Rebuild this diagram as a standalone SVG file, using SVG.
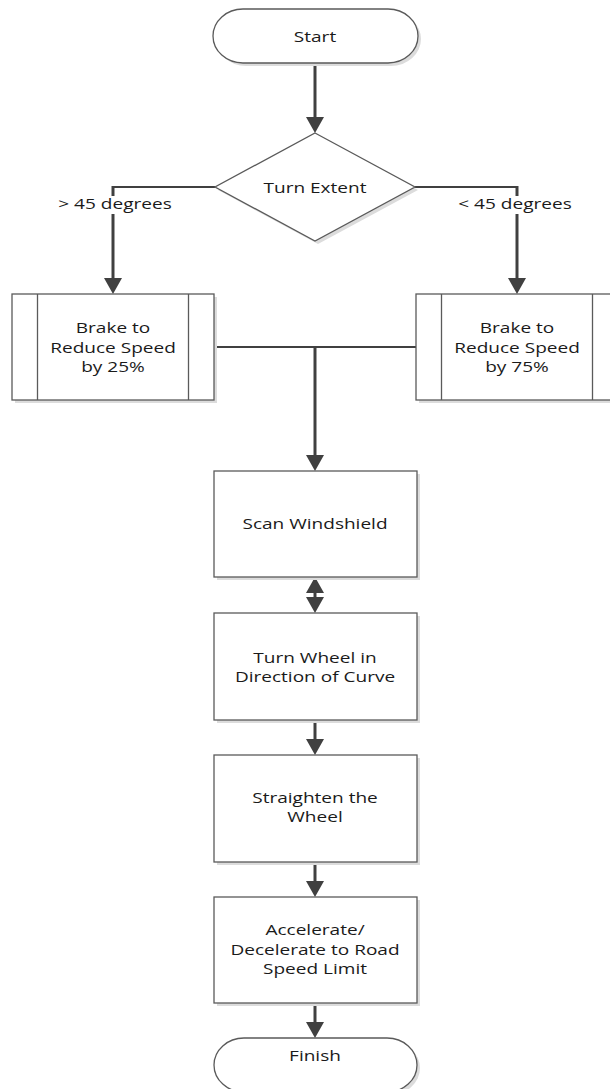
<svg xmlns="http://www.w3.org/2000/svg" width="610" height="1089" viewBox="0 0 610 1089">
  <style>
    .shape { fill: #ffffff; stroke: #5a5a5a; stroke-width: 1.3; }
    .shadow { fill: #dcdcdc; stroke: none; }
    .inner { stroke: #5a5a5a; stroke-width: 1.3; fill: none; }
    .lbl { font-family: "Open Sans", "Liberation Sans", sans-serif; font-size: 15px; fill: #1a1a1a; text-anchor: middle; }
    .wire { fill: none; stroke: #404040; stroke-width: 2; }
    .flow { fill: none; stroke: #404040; stroke-width: 3; }
    .arrow { marker-end: url(#head); }
  </style>
  <defs>
    <marker id="head" viewBox="0 0 16 18" refX="6" refY="9" markerWidth="16" markerHeight="18" markerUnits="userSpaceOnUse" orient="auto-start-reverse">
      <path d="M0,0 L16,9 L0,18 Z" fill="#404040"/>
    </marker>
  </defs>
  <rect width="610" height="1089" fill="#ffffff"/>

  <!-- connectors -->
  <g id="connectors">
    <path class="flow arrow" d="M315,63 V123"/>
    <path class="wire" d="M215,187 H113"/>
    <path class="flow arrow" d="M113,186 V284"/>
    <path class="wire" d="M415,187 H517"/>
    <path class="flow arrow" d="M517,186 V284"/>
    <path class="wire" d="M214,347 H416"/>
    <path class="flow arrow" d="M315,347 V461"/>
    <path class="flow" d="M315,587 V603" marker-start="url(#head)" marker-end="url(#head)"/>
    <path class="flow arrow" d="M315,720 V745"/>
    <path class="flow arrow" d="M315,862 V887"/>
    <path class="flow arrow" d="M315,1003 V1028"/>
    <!-- branch labels -->
    <rect x="50" y="196" width="130" height="18" fill="#ffffff"/>
    <text class="lbl" transform="translate(115 209) scale(1.27 1)">&gt; 45 degrees</text>
    <rect x="453" y="196" width="126" height="18" fill="#ffffff"/>
    <text class="lbl" transform="translate(515 209) scale(1.27 1)">&lt; 45 degrees</text>
  </g>

  <g id="start">
    <rect class="shadow" x="216" y="12" width="205" height="54" rx="30" ry="27"/>
    <rect class="shape" x="213" y="9" width="205" height="54" rx="30" ry="27"/>
    <text class="lbl" transform="translate(315 42) scale(1.27 1)">Start</text>
  </g>

  <g id="turn-extent">
    <path class="shadow" d="M318,136 L418,190 L318,244 L218,190 Z"/>
    <path class="shape" d="M315,133 L415,187 L315,241 L215,187 Z"/>
    <text class="lbl" transform="translate(315 193) scale(1.27 1)">Turn Extent</text>
  </g>

  <g id="brake-25">
    <rect class="shadow" x="15" y="297" width="202" height="106"/>
    <rect class="shape" x="12" y="294" width="202" height="106"/>
    <path class="inner" d="M37.5,294 V400 M188.5,294 V400"/>
    <text class="lbl" transform="translate(113 333) scale(1.27 1)">Brake to</text>
    <text class="lbl" transform="translate(113 352.5) scale(1.27 1)">Reduce Speed</text>
    <text class="lbl" transform="translate(113 372) scale(1.27 1)">by 25%</text>
  </g>

  <g id="brake-75">
    <rect class="shadow" x="419" y="297" width="202" height="106"/>
    <rect class="shape" x="416" y="294" width="202" height="106"/>
    <path class="inner" d="M441.5,294 V400 M592.5,294 V400"/>
    <text class="lbl" transform="translate(517 333) scale(1.27 1)">Brake to</text>
    <text class="lbl" transform="translate(517 352.5) scale(1.27 1)">Reduce Speed</text>
    <text class="lbl" transform="translate(517 372) scale(1.27 1)">by 75%</text>
  </g>

  <g id="scan-windshield">
    <rect class="shadow" x="217" y="474" width="203" height="106"/>
    <rect class="shape" x="214" y="471" width="203" height="106"/>
    <text class="lbl" transform="translate(315 529) scale(1.27 1)">Scan Windshield</text>
  </g>

  <g id="turn-wheel">
    <rect class="shadow" x="217" y="616" width="203" height="107"/>
    <rect class="shape" x="214" y="613" width="203" height="107"/>
    <text class="lbl" transform="translate(315 663) scale(1.27 1)">Turn Wheel in</text>
    <text class="lbl" transform="translate(315 682) scale(1.27 1)">Direction of Curve</text>
  </g>

  <g id="straighten">
    <rect class="shadow" x="217" y="758" width="203" height="107"/>
    <rect class="shape" x="214" y="755" width="203" height="107"/>
    <text class="lbl" transform="translate(315 803) scale(1.27 1)">Straighten the</text>
    <text class="lbl" transform="translate(315 822) scale(1.27 1)">Wheel</text>
  </g>

  <g id="accelerate">
    <rect class="shadow" x="217" y="900" width="203" height="106"/>
    <rect class="shape" x="214" y="897" width="203" height="106"/>
    <text class="lbl" transform="translate(315 935) scale(1.27 1)">Accelerate/</text>
    <text class="lbl" transform="translate(315 954.5) scale(1.27 1)">Decelerate to Road</text>
    <text class="lbl" transform="translate(315 974) scale(1.27 1)">Speed Limit</text>
  </g>

  <g id="finish">
    <rect class="shadow" x="217" y="1041" width="203" height="54" rx="30" ry="27"/>
    <rect class="shape" x="214" y="1038" width="203" height="54" rx="30" ry="27"/>
    <text class="lbl" transform="translate(315 1061) scale(1.27 1)">Finish</text>
  </g>
</svg>
